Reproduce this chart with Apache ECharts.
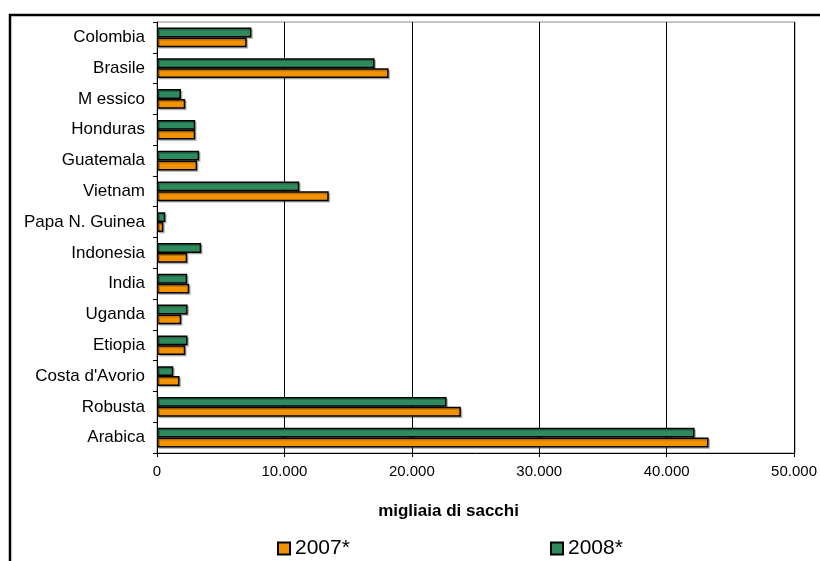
<!DOCTYPE html>
<html>
<head>
<meta charset="utf-8">
<script src="https://cdn.jsdelivr.net/npm/echarts@6/dist/echarts.min.js"></script>
<style>
  html, body { margin: 0; padding: 0; background: #fff; }
  #chart { width: 820px; height: 561px; }
</style>
</head>
<body>
<div id="chart"></div>
<script>
// categorie dall'alto verso il basso
var paesi = ['Colombia', 'Brasile', 'M essico', 'Honduras', 'Guatemala', 'Vietnam', 'Papa N. Guinea',
             'Indonesia', 'India', 'Uganda', 'Etiopia', "Costa d'Avorio", 'Robusta', 'Arabica'];
// migliaia di sacchi
var val2007 = [7040, 18180, 2220, 3000, 3150, 13480, 500, 2370, 2530, 1900, 2220, 1770, 23850, 43290];
var val2008 = [7410, 17080, 1880, 3000, 3310, 11170, 650, 3470, 2370, 2400, 2400, 1280, 22730, 42190];

var chart = echarts.init(document.getElementById('chart'));

function fmt(v) {
    return String(v).replace(/\B(?=(\d{3})+(?!\d))/g, '.');
}

var barStyle = function (col) {
    return {
        color: col,
        borderColor: '#000',
        borderWidth: 1.5,
        shadowColor: 'rgba(0,0,0,0.22)',
        shadowOffsetX: 1.5,
        shadowOffsetY: 1.5
    };
};

var legendText = {
    fontSize: 21,
    color: '#000',
    padding: [3, 0, 0, 0]
};

var option = {
    backgroundColor: '#fff',
    animation: false,
    textStyle: { fontFamily: 'Liberation Sans, Arial, sans-serif' },
    graphic: [
        {
            type: 'rect',
            shape: { x: 10, y: 15, width: 830, height: 570 },
            style: { fill: 'none', stroke: '#000', lineWidth: 2.5 },
            silent: true
        },
        {
            type: 'rect',
            shape: { x: 157, y: 22, width: 638, height: 431 },
            style: { fill: 'none', stroke: '#888', lineWidth: 1 },
            silent: true
        }
    ],
    grid: { left: 157, top: 22, right: 25, bottom: 108, containLabel: false },
    legend: [
        {
            data: ['2007*'],
            left: 272, top: 533,
            itemWidth: 12, itemHeight: 12, itemGap: 0,
            icon: 'rect',
            textStyle: legendText
        },
        {
            data: ['2008*'],
            left: 545, top: 533,
            itemWidth: 12, itemHeight: 12, itemGap: 0,
            icon: 'rect',
            textStyle: legendText
        }
    ],
    xAxis: {
        type: 'value',
        min: 0, max: 50000, interval: 10000,
        name: 'migliaia di sacchi',
        nameLocation: 'middle',
        nameGap: 50,
        nameTextStyle: { fontSize: 17, fontWeight: 'bold', color: '#000', padding: [0, 54, 0, 0] },
        axisLine: { show: true, lineStyle: { color: '#000', width: 1 } },
        axisTick: { show: true, length: 4, lineStyle: { color: '#000' } },
        axisLabel: { color: '#000', fontSize: 15, margin: 11, formatter: fmt },
        splitLine: { show: true, lineStyle: { color: '#000', width: 1 } }
    },
    yAxis: {
        type: 'category',
        data: paesi,
        inverse: true,
        axisLine: { show: true, lineStyle: { color: '#000', width: 1 } },
        axisTick: { show: true, length: 4, lineStyle: { color: '#000' } },
        axisLabel: { color: '#000', fontSize: 17, margin: 12 },
        splitLine: { show: false }
    },
    series: [
        {
            name: '2008*',
            type: 'bar',
            data: val2008,
            barGap: '0%',
            barCategoryGap: '36%',
            itemStyle: barStyle('#2E8B5E')
        },
        {
            name: '2007*',
            type: 'bar',
            data: val2007,
            itemStyle: barStyle('#F39200')
        }
    ]
};

chart.setOption(option);
</script>
</body>
</html>
